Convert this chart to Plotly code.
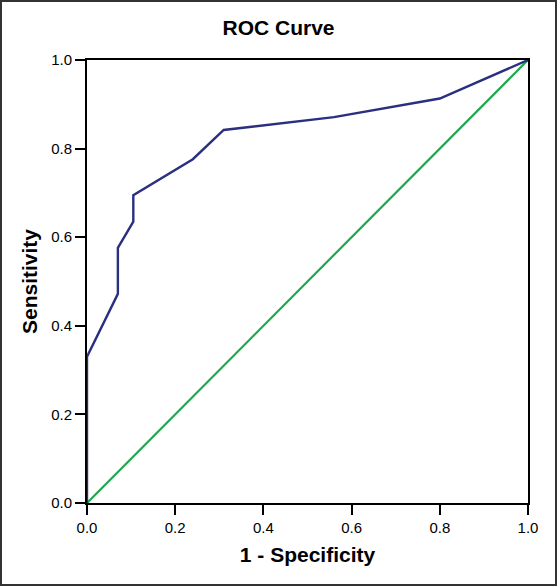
import plotly.graph_objects as go

fpr = [0.0, 0.0, 0.07, 0.07, 0.105, 0.105, 0.24, 0.31, 0.56, 0.80, 1.0]
tpr = [0.0, 0.33, 0.472, 0.576, 0.635, 0.695, 0.776, 0.842, 0.871, 0.913, 1.0]
ref = [0.0, 1.0]
ticks = [0.0, 0.2, 0.4, 0.6, 0.8, 1.0]
tick_labels = ["0.0", "0.2", "0.4", "0.6", "0.8", "1.0"]

W, H = 557, 586
L, R, T, B = 87, 29, 60, 83
pw, ph = W - L - R, H - T - B
FONT = "Liberation Sans, Arial"

fig = go.Figure()
fig.add_trace(go.Scatter(x=ref, y=ref, mode="lines",
                         line=dict(color="#1ea84e", width=2.2), showlegend=False))
fig.add_trace(go.Scatter(x=fpr, y=tpr, mode="lines",
                         line=dict(color="#2a2f80", width=2.4), showlegend=False))

axis_common = dict(range=[0, 1], tickvals=ticks, ticktext=tick_labels,
                   showgrid=False, zeroline=False, showline=True, linecolor="black",
                   linewidth=2, mirror=True, ticks="outside", ticklen=10, tickwidth=2,
                   tickcolor="black", tickfont=dict(size=15, color="black", family=FONT))

fig.update_xaxes(**axis_common, title=dict(text="<b>1 - Specificity</b>", standoff=12,
                 font=dict(size=21, color="black", family=FONT)))
fig.update_yaxes(**axis_common, title=dict(text="<b>Sensitivity</b>", standoff=8,
                 font=dict(size=21, color="black", family=FONT)))

fig.add_shape(type="rect", xref="paper", yref="paper",
              x0=-(L - 1) / pw, x1=(W - L - 1) / pw,
              y0=-(B - 1) / ph, y1=(H - B - 1) / ph,
              line=dict(color="#333333", width=2))

fig.update_layout(
    width=W, height=H,
    margin=dict(l=L, r=R, t=T, b=B),
    paper_bgcolor="white", plot_bgcolor="white",
    title=dict(text="<b>ROC Curve</b>", x=0.5, xanchor="center", y=1 - 28 / H,
               yanchor="middle",
               font=dict(size=21, color="black", family=FONT)),
)

fig.write_html("out.html", config={"displayModeBar": False},
               post_script="document.body.style.margin='0';")
